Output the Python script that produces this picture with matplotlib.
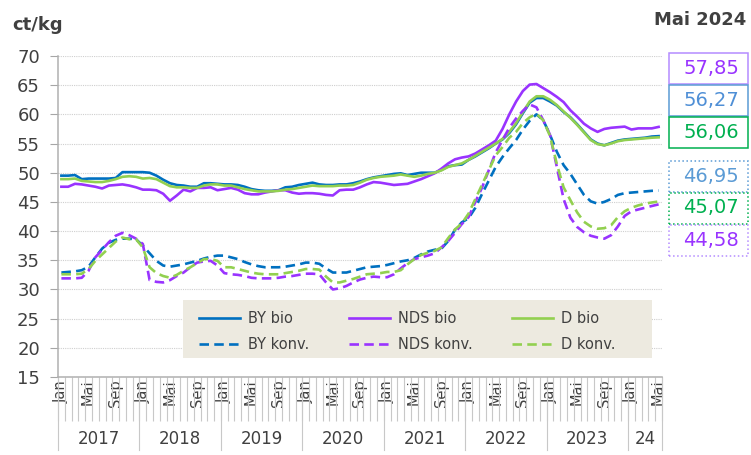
import matplotlib
matplotlib.use('Agg')
import matplotlib.pyplot as plt
import matplotlib.transforms as mtransforms
from matplotlib.patches import Rectangle

plt.rcParams['font.family'] = ['DejaVu Sans']

# Monate Jan 2017 .. Mai 2024
monate_kurz = ['Jan', 'Feb', 'Mrz', 'Apr', 'Mai', 'Jun', 'Jul', 'Aug', 'Sep', 'Okt', 'Nov', 'Dez']
jahre = ['2017', '2018', '2019', '2020', '2021', '2022', '2023', '24']
stand = 'Mai 2024'

by_bio = [49.5, 49.5, 49.6, 48.9, 49.0, 49.0, 49.0, 49.0, 49.1, 50.1, 50.1, 50.1,
          50.1, 50.0, 49.5, 48.8, 48.2, 47.9, 47.8, 47.6, 47.6, 48.2, 48.2, 48.1,
          48.0, 48.0, 47.9, 47.6, 47.2, 47.0, 46.9, 46.9, 47.0, 47.5, 47.6, 47.9,
          48.1, 48.3, 48.0, 47.9, 47.9, 48.0, 48.0, 48.2, 48.5, 48.9, 49.2, 49.4,
          49.6, 49.8, 49.9, 49.6, 49.8, 50.0, 50.0, 50.0, 50.5, 51.1, 51.3, 51.4,
          52.2, 52.8, 53.5, 54.2, 55.0, 55.7, 56.8, 58.3, 60.2, 62.0, 62.8, 62.8,
          62.2, 61.5, 60.4, 59.5, 58.3, 57.0, 55.7, 55.0, 54.7, 55.1, 55.5, 55.7,
          55.8, 55.9, 56.0, 56.2, 56.27]
nds_bio = [47.6, 47.6, 48.1, 48.0, 47.8, 47.6, 47.3, 47.8, 47.9, 48.0, 47.8, 47.5,
           47.1, 47.1, 47.0, 46.4, 45.2, 46.1, 47.1, 46.8, 47.4, 47.4, 47.5, 47.0,
           47.2, 47.4, 47.1, 46.5, 46.3, 46.3, 46.6, 46.8, 47.0, 47.0, 46.6, 46.4,
           46.5, 46.5, 46.4, 46.2, 46.1, 47.0, 47.1, 47.1, 47.5, 48.0, 48.4, 48.3,
           48.1, 47.9, 48.0, 48.1, 48.5, 48.9, 49.4, 49.9, 50.7, 51.6, 52.3, 52.6,
           52.8, 53.3, 54.0, 54.7, 55.5, 57.5, 60.0, 62.2, 64.0, 65.1, 65.2, 64.5,
           63.8, 63.0, 62.1, 60.7, 59.6, 58.4, 57.6, 57.0, 57.5, 57.7, 57.8, 57.9,
           57.4, 57.6, 57.6, 57.6, 57.85]
d_bio = [48.9, 48.9, 49.0, 48.6, 48.5, 48.4, 48.4, 48.6, 48.9, 49.3, 49.4, 49.3,
         49.0, 49.1, 48.9, 48.3, 47.7, 47.5, 47.5, 47.4, 47.4, 47.8, 48.0, 48.0,
         47.8, 47.8, 47.5, 47.2, 47.0, 46.8, 46.8, 46.8, 46.9, 47.1, 47.2, 47.4,
         47.6, 47.8, 47.7, 47.7, 47.7, 47.8, 47.8, 47.9, 48.3, 48.8, 49.1, 49.3,
         49.4, 49.5, 49.7, 49.5, 49.3, 49.5, 49.8, 50.0, 50.4, 51.0, 51.3, 51.6,
         52.2, 52.9, 53.6, 54.3, 55.0, 55.8, 57.0, 58.5, 60.4, 62.2, 63.1, 63.1,
         62.5, 61.6, 60.5, 59.4, 58.2, 56.9, 55.6, 54.9, 54.7, 55.0, 55.4, 55.6,
         55.7, 55.8, 55.9, 56.0, 56.06]
by_konv = [32.9, 33.0, 33.1, 33.3, 33.9, 35.5, 37.0, 38.0, 38.5, 38.7, 38.7, 38.6,
           37.5, 36.2, 34.9, 34.1, 33.9, 34.1, 34.3, 34.6, 34.9, 35.3, 35.6, 35.8,
           35.8, 35.5, 35.2, 34.7, 34.3, 34.0, 33.8, 33.8, 33.8, 33.9, 34.1, 34.3,
           34.6, 34.6, 34.4, 33.6, 32.9, 32.9, 32.9, 33.2, 33.5, 33.8, 33.9, 34.0,
           34.2, 34.5, 34.8, 35.0, 35.4, 36.0, 36.5, 36.8, 37.0, 38.3, 40.2, 41.5,
           42.2, 44.0, 46.4, 48.7, 51.0, 52.7, 54.2, 55.6, 57.4, 58.9, 60.0, 59.0,
           56.5, 53.6, 51.3, 49.8, 48.0, 46.2, 45.1, 44.7, 45.0, 45.5, 46.2, 46.5,
           46.6, 46.7, 46.8, 46.9, 46.95]
nds_konv = [31.9, 31.9, 31.9, 32.0, 33.2, 35.5, 36.8, 38.1, 39.2, 39.7, 39.3, 38.7,
            37.8, 31.6, 31.3, 31.2, 31.6, 32.3, 32.9, 33.8, 34.6, 34.8, 34.9, 34.1,
            32.8, 32.6, 32.5, 32.3, 32.0, 31.9, 31.9, 31.9, 32.0, 32.2, 32.3, 32.5,
            32.7, 32.7, 32.6, 31.2, 30.0, 30.2, 30.6, 31.2, 31.7, 32.0, 32.2, 32.1,
            32.1, 32.6, 33.6, 34.5, 35.2, 35.5, 35.8, 36.2, 37.2, 38.3, 39.7, 41.2,
            42.4, 45.0, 47.5, 50.5, 53.5, 55.6, 57.7, 59.3, 60.6, 61.7, 61.2, 59.0,
            56.5, 51.0, 45.5, 42.3, 40.7, 39.8, 39.2, 38.9, 38.7, 39.3, 40.8, 42.6,
            43.4, 43.7, 44.0, 44.3, 44.58]
d_konv = [32.6, 32.6, 32.6, 32.7, 33.5, 34.9, 36.0, 37.1, 38.2, 38.9, 38.6, 38.6,
          37.2, 33.8, 32.8, 32.3, 32.0, 32.5, 33.2, 33.8, 34.5, 35.2, 35.2, 34.9,
          33.8, 33.8, 33.5, 33.2, 32.9, 32.7, 32.6, 32.6, 32.6, 32.8, 33.0, 33.2,
          33.5, 33.5, 33.4, 32.2, 31.2, 31.2, 31.5, 31.8, 32.2, 32.6, 32.7, 32.8,
          33.0, 33.0, 33.3, 34.3, 35.2, 35.9, 36.3, 36.6, 37.2, 38.8, 40.3, 41.3,
          43.0, 45.5, 48.0, 50.5, 53.0, 54.4, 56.0, 57.0, 58.5, 59.5, 60.1, 59.0,
          56.3, 51.5, 47.5, 45.3, 43.2, 41.6, 40.8, 40.4, 40.5, 41.0, 42.4, 43.4,
          44.0, 44.4, 44.7, 44.9, 45.07]

BLAU = '#0070C0'
LILA = '#9933FF'
GRUEN = '#92D050'
GRAU = '#404040'

n = len(by_bio)
x = list(range(n))
monate = [monate_kurz[i % 12] for i in x]

fig = plt.figure(figsize=(7.51, 4.55), dpi=100)
ax = fig.add_axes([58 / 751, 78 / 455, 604 / 751, 321 / 455])

strich = (0, (3.6, 2.0))
ax.plot(x, by_bio, color=BLAU, lw=1.9, label='BY bio', zorder=3)
ax.plot(x, nds_bio, color=LILA, lw=1.9, label='NDS bio', zorder=3)
ax.plot(x, d_bio, color=GRUEN, lw=1.9, label='D bio', zorder=3)
ax.plot(x, by_konv, color=BLAU, lw=1.9, ls=strich, label='BY konv.', zorder=3)
ax.plot(x, nds_konv, color=LILA, lw=1.9, ls=strich, label='NDS konv.', zorder=3)
ax.plot(x, d_konv, color=GRUEN, lw=1.9, ls=strich, label='D konv.', zorder=3)

ax.set_xlim(-0.5, n - 0.5)
ax.set_ylim(15, 70)
ax.set_yticks(range(15, 71, 5))
ax.tick_params(axis='y', length=6, color='#A6A6A6', labelsize=13, labelcolor=GRAU, pad=7)
ax.yaxis.grid(True, linestyle=(0, (1, 1)), color='#CFCFCF', lw=0.8)
ax.set_axisbelow(True)

for s in ['top', 'right']:
    ax.spines[s].set_visible(False)
for s in ['left', 'bottom']:
    ax.spines[s].set_color('#B0B0B0')
    ax.spines[s].set_linewidth(1.1)

# Monatsbeschriftung
pos = [i for i in x if monate[i] in ('Jan', 'Mai', 'Sep')]
ax.set_xticks(pos)
ax.set_xticklabels([monate[i] for i in pos], rotation=90, fontsize=10.5, color=GRAU)
ax.set_xticks([i - 0.5 for i in range(n + 1)], minor=True)
ax.tick_params(axis='x', which='major', length=0, pad=2)
ax.tick_params(axis='x', which='minor', length=32, color='#C8C8C8', width=0.8)

# Jahresgruppen
trans = mtransforms.blended_transform_factory(ax.transData, ax.transAxes)
for k, jahr in enumerate(jahre):
    start = 12 * k
    ende = min(start + 11, n - 1)
    ax.plot([start - 0.5, start - 0.5], [0, -0.227], transform=trans, color='#C8C8C8',
            lw=0.8, clip_on=False)
    ax.text((start + ende) / 2, -0.193, jahr, transform=trans, ha='center', va='center',
            fontsize=12, color=GRAU)
ax.plot([n - 0.5, n - 0.5], [0, -0.227], transform=trans, color='#C8C8C8', lw=0.8, clip_on=False)

# Legende
ax.add_patch(Rectangle((0.207, 0.059), 0.776, 0.181, transform=ax.transAxes,
                       facecolor='#EDEAE0', edgecolor='none', zorder=2))
h, l = ax.get_legend_handles_labels()
order = [0, 3, 1, 4, 2, 5]
leg = ax.legend([h[i] for i in order], [l[i] for i in order], ncol=3, frameon=False,
                loc='upper left', bbox_to_anchor=(0.222, 0.228), borderpad=0,
                fontsize=10.5, handlelength=2.8, handletextpad=0.55,
                columnspacing=2.7, labelspacing=0.75)
for t in leg.get_texts():
    t.set_color(GRAU)
leg.set_zorder(4)

# Texte oben
fig.text(12 / 751, 1 - 25 / 455, 'ct/kg', fontsize=13, fontweight='bold', color=GRAU,
         ha='left', va='center')
fig.text(746 / 751, 1 - 20 / 455, stand, fontsize=13, fontweight='bold', color=GRAU,
         ha='right', va='center')

# Werte-Kästen rechts
kaesten = [
    (nds_bio[-1], '#9933FF', '#B48CFF', '-', 68),
    (by_bio[-1], '#4F8FD6', '#5B9BD5', '-', 100),
    (d_bio[-1], '#00B050', '#00B050', '-', 132),
    (by_konv[-1], '#5B9BD5', '#5B9BD5', ':', 176),
    (d_konv[-1], '#00B050', '#00B050', ':', 208),
    (nds_konv[-1], '#9933FF', '#B48CFF', ':', 240),
]
for wert, tfarbe, rfarbe, rstil, yc in kaesten:
    fig.patches.append(Rectangle((669 / 751, 1 - (yc + 15.5) / 455), 79 / 751, 31 / 455,
                                 transform=fig.transFigure, facecolor='white',
                                 edgecolor=rfarbe, linestyle=rstil, lw=1.1))
    fig.text(711 / 751, 1 - yc / 455, f'{wert:.2f}'.replace('.', ','), fontsize=14,
             color=tfarbe, ha='center', va='center')

fig.savefig('out.png', dpi=100)
